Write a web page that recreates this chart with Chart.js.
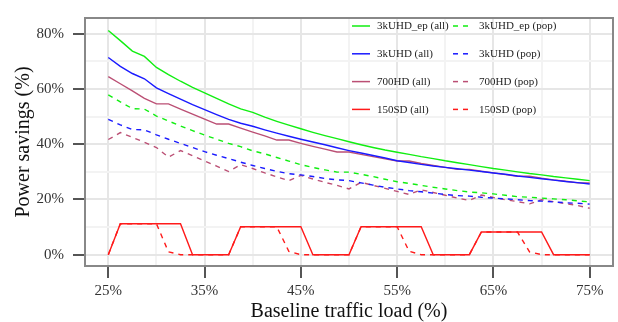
<!DOCTYPE html>
<html>
<head>
<meta charset="utf-8">
<script src="https://cdn.jsdelivr.net/npm/chart.js@4/dist/chart.umd.min.js"></script>
<style>
  html, body { margin: 0; padding: 0; background: #fff; }
</style>
</head>
<body>
<canvas id="powerChart" width="618" height="322"></canvas>
<script>
// baseline traffic load (%)
const loads = [25, 26.25, 27.5, 28.75, 30, 31.25, 32.5, 33.75, 35, 36.25,
  37.5, 38.75, 40, 41.25, 42.5, 43.75, 45, 46.25, 47.5, 48.75,
  50, 51.25, 52.5, 53.75, 55, 56.25, 57.5, 58.75, 60, 61.25,
  62.5, 63.75, 65, 66.25, 67.5, 68.75, 70, 71.25, 72.5, 73.75, 75];

const xTicks = [25, 30, 35, 40, 45, 50, 55, 60, 65, 70, 75];
const yTicks = [0, 10, 20, 30, 40, 50, 60, 70, 80];

// power savings (%) - all
const epAll = [81.2, 77.5, 73.7, 71.8, 67.8, 65.2, 62.8, 60.6, 58.6, 56.6,
  54.6, 52.8, 51.5, 49.8, 48.3, 46.9, 45.6, 44.3, 43.1, 42.0,
  40.9, 39.8, 38.8, 37.9, 37.1, 36.3, 35.5, 34.8, 34.0, 33.3,
  32.6, 31.9, 31.2, 30.6, 30.0, 29.4, 28.9, 28.3, 27.8, 27.3, 26.8];
const uhdAll = [71.4, 68.2, 65.6, 63.7, 60.4, 58.3, 56.3, 54.3, 52.5, 50.7,
  49.0, 47.6, 46.5, 45.2, 44.0, 42.9, 41.8, 40.8, 39.8, 38.7,
  37.7, 36.8, 35.9, 35.0, 34.0, 33.4, 32.7, 32.1, 31.6, 31.1,
  30.6, 30.1, 29.6, 29.1, 28.5, 28.0, 27.5, 27.0, 26.5, 26.1, 25.6];
const hdAll = [64.5, 61.9, 59.3, 56.6, 54.6, 54.6, 52.7, 50.9, 49.1, 47.3,
  47.3, 45.8, 44.4, 43.0, 41.5, 41.5, 40.3, 39.2, 38.2, 37.2,
  37.2, 36.3, 35.5, 34.7, 33.9, 33.9, 33.0, 32.3, 31.6, 30.9,
  30.9, 30.2, 29.6, 29.0, 28.4, 28.4, 27.7, 27.1, 26.6, 26.0, 26.0];
const sdAll = [0, 11.2, 11.2, 11.2, 11.2, 11.2, 11.2, 0, 0, 0,
  0, 10.1, 10.1, 10.1, 10.1, 10.1, 10.1, 0, 0, 0,
  0, 10.1, 10.1, 10.1, 10.1, 10.1, 10.1, 0, 0, 0,
  0, 8.2, 8.2, 8.2, 8.2, 8.2, 8.2, 0, 0, 0, 0];

// power savings (%) - pop
const epPop = [57.9, 55.3, 52.9, 52.7, 50.2, 48.4, 46.6, 44.9, 43.3, 41.8,
  40.3, 39.1, 37.6, 36.5, 35.2, 33.9, 32.6, 31.6, 30.7, 29.9,
  29.9, 29.1, 28.3, 27.3, 26.4, 25.8, 25.1, 24.4, 23.8, 23.2,
  22.7, 22.4, 22.0, 21.5, 21.0, 20.8, 20.5, 20.2, 19.9, 19.5, 19.1];
const uhdPop = [49.0, 47.0, 45.3, 45.2, 43.4, 41.8, 40.3, 38.8, 37.3, 36.0,
  34.8, 33.5, 32.3, 31.2, 30.2, 29.3, 28.9, 28.3, 27.6, 27.1,
  26.8, 26.0, 25.2, 24.4, 23.8, 23.2, 22.8, 22.3, 21.8, 21.4,
  21.2, 20.8, 20.5, 20.2, 19.9, 19.6, 19.4, 19.1, 18.8, 18.6, 18.3];
const hdPop = [41.7, 44.2, 42.5, 40.7, 38.8, 35.3, 37.7, 35.8, 33.9, 32.1,
  30.1, 32.6, 31.2, 29.6, 28.2, 26.8, 28.7, 27.4, 26.2, 25.1,
  23.8, 26.2, 25.1, 24.0, 22.9, 21.8, 23.5, 22.5, 21.5, 20.5,
  19.6, 21.6, 20.7, 19.9, 19.2, 18.4, 19.9, 19.2, 18.5, 17.8, 16.8];
const sdPop = [0, 11.2, 11.2, 11.2, 11.2, 1.0, 0, 0, 0, 0,
  0, 10.1, 10.1, 10.1, 10.1, 1.2, 0, 0, 0, 0,
  0, 10.1, 10.1, 10.1, 10.1, 1.2, 0, 0, 0, 0,
  0, 8.2, 8.2, 8.2, 8.2, 1.0, 0, 0, 0, 0, 0];

const seriesNames = ["3kUHD_ep", "3kUHD", "700HD", "150SD"];
const colors = ["#11ee11", "#1a1aff", "#bb4f74", "#ff1a1a"];

const serif = "'Liberation Serif', 'Times New Roman', serif";

function makeDataset(label, values, color, dashed) {
  return {
    label: label,
    data: values.map((v, i) => ({ x: loads[i], y: v })),
    borderColor: color,
    backgroundColor: color,
    borderWidth: 1.4,
    borderDash: dashed ? [5, 5] : [],
    pointRadius: 0,
    tension: 0,
    fill: false
  };
}

const allValues = [epAll, uhdAll, hdAll, sdAll];
const popValues = [epPop, uhdPop, hdPop, sdPop];

const datasets = [];
seriesNames.forEach((name, i) => datasets.push(makeDataset(name + " (all)", allValues[i], colors[i], false)));
seriesNames.forEach((name, i) => datasets.push(makeDataset(name + " (pop)", popValues[i], colors[i], true)));

// box round the plot + two-column legend in the top right
const frameAndLegend = {
  id: 'frameAndLegend',
  afterDatasetsDraw(chart) {
    const ctx = chart.ctx;
    const a = chart.chartArea;
    ctx.save();
    ctx.strokeStyle = '#888';
    ctx.lineWidth = 2;
    ctx.strokeRect(a.left, a.top, a.right - a.left, a.bottom - a.top);

    ctx.font = "11px " + serif;
    ctx.textBaseline = 'middle';
    ctx.textAlign = 'left';
    chart.data.datasets.forEach((ds, i) => {
      const row = i % 4;
      const col = i < 4 ? 0 : 1;
      const y = 26 + row * 27.8;
      const x0 = col === 0 ? 352 : 453;
      const len = col === 0 ? 18 : 15;
      ctx.strokeStyle = ds.borderColor;
      ctx.lineWidth = 1.5;
      ctx.setLineDash(ds.borderDash);
      ctx.beginPath();
      ctx.moveTo(x0, y);
      ctx.lineTo(x0 + len, y);
      ctx.stroke();
      ctx.setLineDash([]);
      ctx.fillStyle = '#222';
      ctx.fillText(ds.label, col === 0 ? 377 : 479, y + 0.5);
    });
    ctx.restore();
  }
};

const powerChart = new Chart(document.getElementById('powerChart'), {
  type: 'line',
  data: { datasets: datasets },
  plugins: [frameAndLegend],
  options: {
    responsive: false,
    animation: false,
    devicePixelRatio: 1,
    layout: { padding: { top: 8, right: 5, left: 0, bottom: 0 } },
    plugins: {
      legend: { display: false },
      tooltip: { enabled: false }
    },
    scales: {
      x: {
        type: 'linear',
        min: 22.58,
        max: 77.42,
        afterBuildTicks: scale => { scale.ticks = xTicks.map(v => ({ value: v })); },
        afterFit: scale => { scale.height = 56; },
        border: { display: false },
        grid: {
          color: c => (c.tick.value - 25) % 10 === 0 ? '#e6e6e6' : '#f3f3f3',
          lineWidth: 2,
          tickLength: 12,
          tickWidth: 2,
          tickColor: c => (c.tick.value - 25) % 10 === 0 ? '#555' : 'rgba(0,0,0,0)'
        },
        ticks: {
          callback: v => (v - 25) % 10 === 0 ? v + '%' : '',
          font: { family: serif, size: 15 },
          color: '#333',
          padding: 4,
          maxRotation: 0,
          autoSkip: false
        },
        title: {
          display: true,
          text: 'Baseline traffic load (%)',
          font: { family: serif, size: 20, lineHeight: 1 },
          color: '#111',
          padding: { top: 0, bottom: 0 }
        }
      },
      y: {
        min: -4.1,
        max: 85.7,
        afterBuildTicks: scale => { scale.ticks = yTicks.map(v => ({ value: v })); },
        afterFit: scale => { scale.width = 85; },
        border: { display: false },
        grid: {
          color: c => c.tick.value % 20 === 0 ? '#e6e6e6' : '#f3f3f3',
          lineWidth: 2,
          tickLength: 12,
          tickWidth: 2,
          tickColor: c => c.tick.value % 20 === 0 ? '#555' : 'rgba(0,0,0,0)'
        },
        ticks: {
          callback: v => v % 20 === 0 ? v + '%' : '',
          font: { family: serif, size: 15 },
          color: '#333',
          padding: 9
        },
        title: {
          display: true,
          text: 'Power savings (%)',
          font: { family: serif, size: 20, lineHeight: 1.2 },
          color: '#111',
          padding: { top: 12, bottom: 0 }
        }
      }
    }
  }
});
</script>
</body>
</html>
